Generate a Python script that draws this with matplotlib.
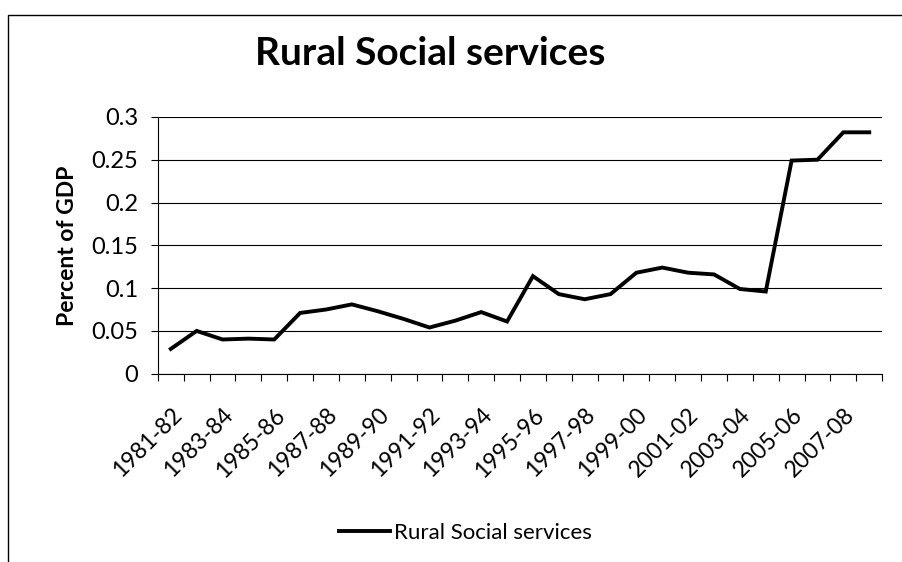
import matplotlib.pyplot as plt
from matplotlib.patches import Rectangle
import numpy as np

plt.rcParams['font.family'] = ['Lato', 'DejaVu Sans']

# 数据：年份与占GDP的百分比
years = ['1981-82', '1982-83', '1983-84', '1984-85', '1985-86', '1986-87', '1987-88',
         '1988-89', '1989-90', '1990-91', '1991-92', '1992-93', '1993-94', '1994-95',
         '1995-96', '1996-97', '1997-98', '1998-99', '1999-00', '2000-01', '2001-02',
         '2002-03', '2003-04', '2004-05', '2005-06', '2006-07', '2007-08', '2008-09']
values = [0.029, 0.050, 0.040, 0.041, 0.040, 0.071, 0.075, 0.081, 0.073, 0.064,
          0.054, 0.062, 0.072, 0.061, 0.114, 0.093, 0.087, 0.093, 0.118, 0.124,
          0.118, 0.116, 0.099, 0.096, 0.249, 0.250, 0.282, 0.282]
yticks = [0, 0.05, 0.1, 0.15, 0.2, 0.25, 0.3]
ytick_labels = ['0', '0.05', '0.1', '0.15', '0.2', '0.25', '0.3']

fig = plt.figure(figsize=(9.02, 5.62), dpi=100)
ax = fig.add_axes([0.175, 0.335, 0.803, 0.457])

x = np.arange(len(years))
ax.plot(x, values, color='black', linewidth=2.8, solid_joinstyle='miter',
        label='Rural Social services')

ax.set_xlim(-0.5, len(years) - 0.5)
ax.set_ylim(0, 0.3)
ax.set_yticks(yticks)
ax.set_yticklabels(ytick_labels, fontsize=17)
ax.grid(axis='y', color='black', linewidth=0.8)
ax.set_axisbelow(True)

# 类别标签每隔一个显示，刻度线在类别边界
ax.set_xticks(x[::2])
ax.set_xticklabels(years[::2], rotation=45, ha='right', rotation_mode='anchor', fontsize=16.5)
ax.set_xticks(np.arange(-0.5, len(years)), minor=True)
ax.tick_params(axis='x', which='major', length=0, pad=22)
ax.tick_params(axis='x', which='minor', length=5, direction='out', width=0.8)
ax.tick_params(axis='y', length=5, width=0.8, pad=9)

for side in ['top', 'right']:
    ax.spines[side].set_visible(False)
ax.spines['left'].set_linewidth(0.8)
ax.spines['bottom'].set_linewidth(0.8)

ax.set_ylabel('Percent of GDP', fontsize=16.5, fontweight='bold', labelpad=10)
fig.text(0.477, 0.905, 'Rural Social services', fontsize=28, fontweight='bold',
         ha='center', va='center')

fig.legend(loc='center', bbox_to_anchor=(0.516, 0.052), frameon=False, fontsize=16,
           handlelength=2.3, handletextpad=0.15)

# 外边框
fig.patches.append(Rectangle((0.009, -0.01), 1.2, 0.983, transform=fig.transFigure,
                             fill=False, edgecolor='black', linewidth=1))

fig.savefig('out.png', dpi=100)
